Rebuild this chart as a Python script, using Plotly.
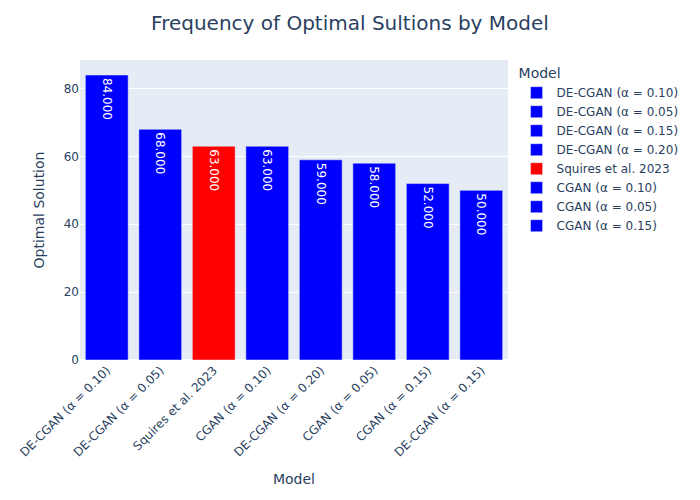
import plotly.graph_objects as go

models = ["DE-CGAN (α = 0.10)", "DE-CGAN (α = 0.05)", "DE-CGAN (α = 0.15)", "DE-CGAN (α = 0.20)",
          "Squires et al. 2023", "CGAN (α = 0.10)", "CGAN (α = 0.05)", "CGAN (α = 0.15)"]
values = [84, 68, 50, 59, 63, 63, 58, 52]
colors = ["blue", "blue", "blue", "blue", "red", "blue", "blue", "blue"]
x_order = ["DE-CGAN (α = 0.10)", "DE-CGAN (α = 0.05)", "Squires et al. 2023", "CGAN (α = 0.10)",
           "DE-CGAN (α = 0.20)", "CGAN (α = 0.05)", "CGAN (α = 0.15)", "DE-CGAN (α = 0.15)"]

fig = go.Figure()
for m, v, c in zip(models, values, colors):
    fig.add_trace(go.Bar(x=[m], y=[v], name=m, marker_color=c,
                         texttemplate="%{y:.3f}", textposition="auto"))

fig.update_layout(
    width=700, height=500,
    template="plotly",
    font=dict(family="DejaVu Sans"),
    title=dict(text="Frequency of Optimal Sultions by Model", x=0.5, xanchor="center",
               y=0.955, yanchor="middle", font_size=20),
    margin=dict(l=80, r=192, t=60, b=140, autoexpand=False),
    barmode="relative",
    legend=dict(title_text="Model", tracegroupgap=0),
    xaxis=dict(title_text="Model", categoryorder="array", categoryarray=x_order,
               tickangle=-45, automargin=False),
    yaxis=dict(title_text="Optimal Solution", automargin=False),
)
fig.write_html("out.html", config={"displayModeBar": False},
               post_script="document.body.style.margin='0';")
